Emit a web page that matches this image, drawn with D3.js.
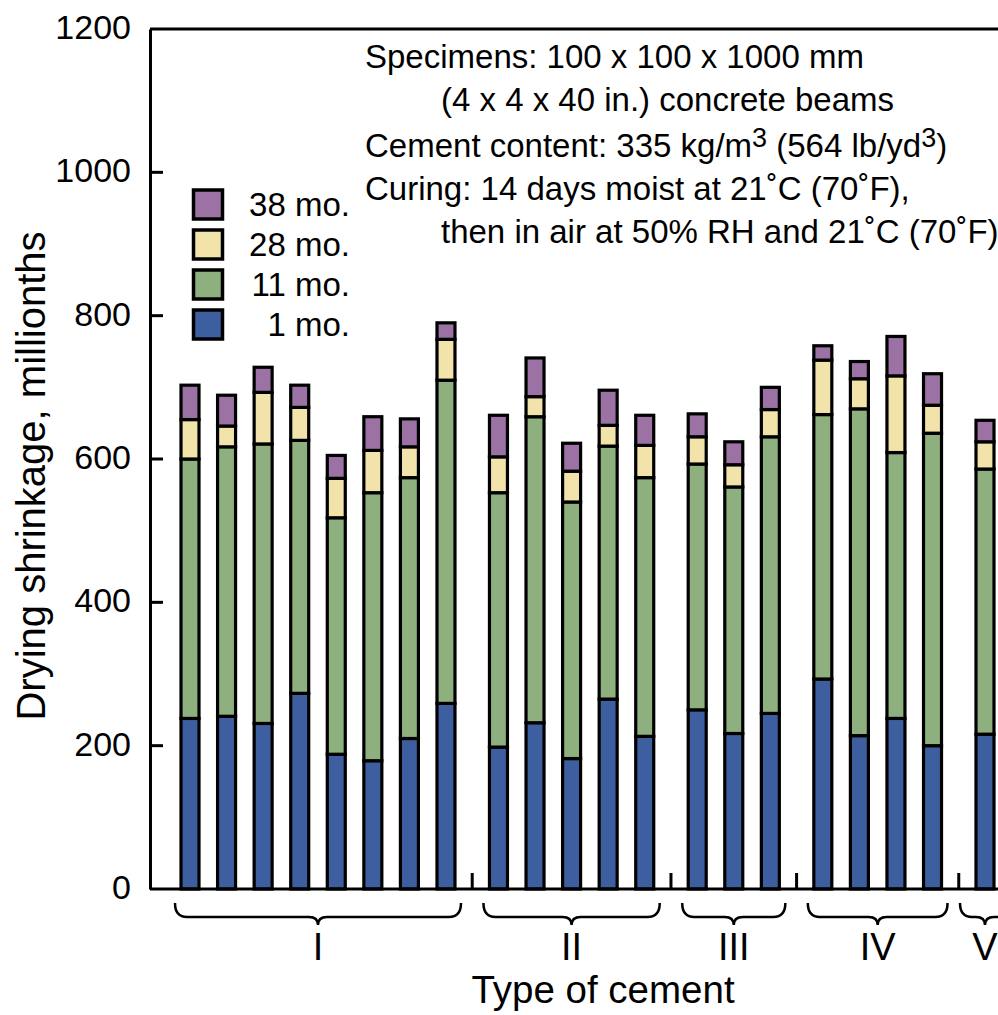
<!DOCTYPE html>
<html><head><meta charset="utf-8">
<script src="https://cdn.jsdelivr.net/npm/d3@7"></script>
<style>
html,body{margin:0;padding:0;background:#fff;}
svg{display:block;font-family:"Liberation Sans",Arial,Helvetica,sans-serif;}
</style></head>
<body>
<svg id="chart" width="998" height="1015"></svg>
<script>
// ---- data ----
const groups = ["I","II","III","IV","V"];
const groupOf = [0,0,0,0,0,0,0,0, 1,1,1,1,1, 2,2,2, 3,3,3,3, 4];
const ages = ["1 mo.","11 mo.","28 mo.","38 mo."];
// shrinkage (millionths) reached at each age
const shrink1 =  [238,241,231,273,188,179,210,259, 198,232,182,265,213, 250,217,245, 293,214,238,200, 216];
const shrink11 = [600,617,621,626,518,553,574,710, 553,659,540,618,574, 593,561,631, 662,670,609,636, 586];
const shrink28 = [655,646,693,672,573,612,617,767, 603,687,583,647,619, 631,592,669, 738,712,716,675, 624];
const shrink38 = [703,689,728,703,605,659,656,790, 661,741,622,696,661, 663,624,700, 758,736,771,719, 654];
const yTicks = [0,200,400,600,800,1000,1200];
const colors = ["#3e5f9f","#8db07e","#f2e3ab","#9b72a3"];
const noteLines = [
  {t:"Specimens: 100 x 100 x 1000 mm", indent:false},
  {t:"(4 x 4 x 40 in.) concrete beams", indent:true},
  {t:"Cement content: 335 kg/m|3| (564 lb/yd|3|)", indent:false},
  {t:"Curing: 14 days moist at 21˚C (70˚F),", indent:false},
  {t:"then in air at 50% RH and 21˚C (70˚F)", indent:true}
];

const series = [shrink1, shrink11, shrink28, shrink38];
const svg = d3.select("#chart");
const W = 998;
const plotLeft = 150, plotTop = 29, plotBottom = 889;

const y = d3.scaleLinear().domain([0,1200]).range([plotBottom, plotTop]);
const gapFrac = 0.435;
const slot = (i) => i + groupOf[i]*gapFrac;
const x = d3.scaleLinear().domain([0, slot(shrink1.length-1)]).range([190, 985]);
const barW = 18;

// frame: top line
svg.append("line").attr("x1",plotLeft).attr("x2",W+5).attr("y1",plotTop).attr("y2",plotTop)
  .attr("stroke","#000").attr("stroke-width",3);

const yAxis = d3.axisLeft(y).tickValues(yTicks).tickFormat(d3.format("d")).tickSize(0).tickPadding(19);
const ga = svg.append("g").attr("transform",`translate(${plotLeft},0)`).call(yAxis);
ga.select(".domain").attr("stroke","#000").attr("stroke-width",3);
ga.selectAll("text").attr("font-size",34).attr("fill","#000")
  .attr("font-family",'"Liberation Sans",Arial,sans-serif').attr("dy","0.28em");
// inward ticks
svg.append("g").selectAll("line").data(yTicks.filter(v=>v>0 && v<1200)).join("line")
  .attr("x1",plotLeft).attr("x2",plotLeft+13).attr("y1",d=>y(d)).attr("y2",d=>y(d))
  .attr("stroke","#000").attr("stroke-width",3);

// bars
const bars = svg.append("g");
shrink1.forEach((_,i)=>{
  series.forEach((s,k)=>{
    const lo = k===0 ? 0 : series[k-1][i];
    const hi = s[i];
    bars.append("rect")
      .attr("x", x(slot(i)) - barW/2).attr("width", barW)
      .attr("y", y(hi)).attr("height", y(lo)-y(hi))
      .attr("fill", colors[k]).attr("stroke","#000").attr("stroke-width",3.2);
  });
});
// baseline
svg.append("line").attr("x1",plotLeft).attr("x2",W+5).attr("y1",plotBottom).attr("y2",plotBottom)
  .attr("stroke","#000").attr("stroke-width",3);

// group separators, braces and labels
const gInfo = groups.map((g,gi)=>{
  const idx = groupOf.map((v,i)=>v===gi?i:-1).filter(i=>i>=0);
  const first = x(slot(idx[0])), last = x(slot(idx[idx.length-1]));
  return {g, first, last, idx};
});
for (let gi=0; gi<gInfo.length-1; gi++){
  const xm = (gInfo[gi].last + gInfo[gi+1].first)/2;
  svg.append("line").attr("x1",xm).attr("x2",xm).attr("y1",plotBottom).attr("y2",plotBottom-16)
    .attr("stroke","#000").attr("stroke-width",3);
}
gInfo.forEach(d=>{
  const pad = d.idx.length>1 ? 15 : 25;
  const x0 = d.first - pad, x1 = d.last + pad, xm = (d.first + d.last)/2;
  const y0 = 903, y1 = 917, yt = 925;
  const p = d3.path();
  p.moveTo(x0,y0);
  p.quadraticCurveTo(x0,y1,x0+12,y1);
  p.lineTo(xm-9,y1);
  p.quadraticCurveTo(xm,y1,xm,yt);
  p.quadraticCurveTo(xm,y1,xm+9,y1);
  p.lineTo(x1-12,y1);
  p.quadraticCurveTo(x1,y1,x1,y0);
  svg.append("path").attr("d",p.toString()).attr("fill","none")
    .attr("stroke","#000").attr("stroke-width",2.5);
  svg.append("text").attr("x",xm).attr("y",960).attr("text-anchor","middle")
    .attr("font-size",38).text(d.g);
});

// axis titles
svg.append("text").attr("x",603).attr("y",1003).attr("text-anchor","middle")
  .attr("font-size",38.5).text("Type of cement");
svg.append("text").attr("transform","translate(45,476) rotate(-90)")
  .attr("text-anchor","middle").attr("font-size",40).text("Drying shrinkage, millionths");

// legend (top to bottom: 38, 28, 11, 1 mo.)
const leg = svg.append("g");
[3,2,1,0].forEach((k,j)=>{
  const yy = 190 + j*40;
  leg.append("rect").attr("x",193.5).attr("y",yy).attr("width",29).attr("height",29)
    .attr("fill",colors[k]).attr("stroke","#000").attr("stroke-width",3.5);
  leg.append("text").attr("x",350).attr("y",yy+26).attr("text-anchor","end")
    .attr("font-size",33).text(ages[k]);
});

// annotation
const noteY = [68,111,157,200,243];
noteLines.forEach((l,i)=>{
  const t = svg.append("text").attr("x", l.indent ? 441 : 365).attr("y", noteY[i])
    .attr("font-size",33);
  const parts = l.t.split("|");
  parts.forEach((p,j)=>{
    if (j%2===1) {
      t.append("tspan").attr("font-size",27).attr("dy",-10).text(p);
    } else {
      const ts = t.append("tspan").text(p);
      if (j>0) ts.attr("dy",10);
    }
  });
});
</script>
</body></html>
